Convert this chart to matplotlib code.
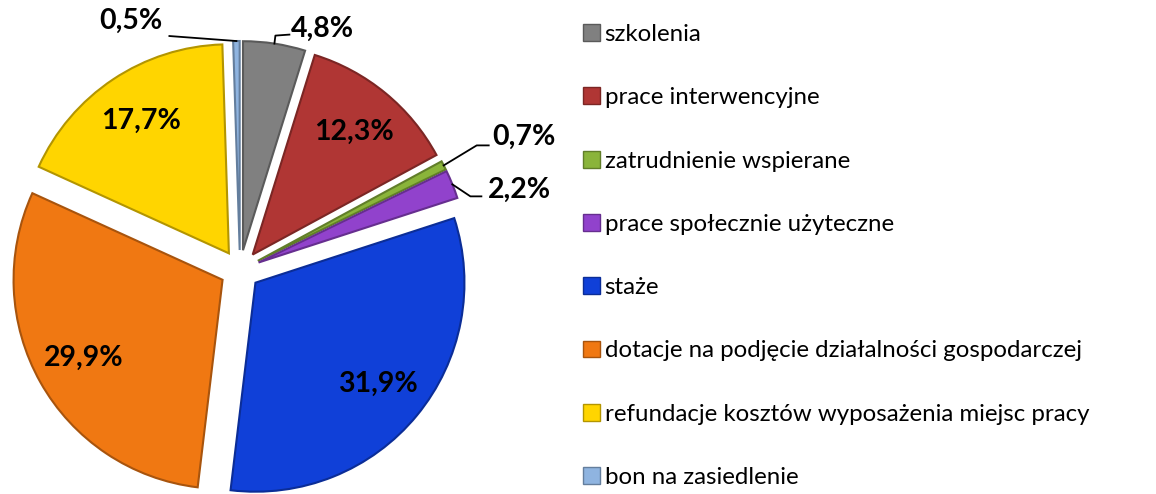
import matplotlib.pyplot as plt
from matplotlib.patches import Patch
from matplotlib.colors import to_rgb
import numpy as np

# data
categories = ['szkolenia', 'prace interwencyjne', 'zatrudnienie wspierane',
              'prace społecznie użyteczne', 'staże',
              'dotacje na podjęcie działalności gospodarczej',
              'refundacje kosztów wyposażenia miejsc pracy',
              'bon na zasiedlenie']
shares = [4.8, 12.3, 0.7, 2.2, 31.9, 29.9, 17.7, 0.5]
colors = ['#808080', '#b03634', '#8ab43a', '#9142cc', '#1040d8',
          '#f07812', '#ffd500', '#8fb4e0']


def darker(c, f=0.7):
    return tuple(v * f for v in to_rgb(c))


plt.rcParams['font.family'] = ['Lato', 'DejaVu Sans']

W, H = 1156, 494
fig = plt.figure(figsize=(W / 100, H / 100), dpi=100)
ax = fig.add_axes([0, 0, 1, 1])

R = 209
center = (240, H - 270)
# explode is in data units here (pixels), not a fraction
explode = [20] * len(shares)

wedges, _ = ax.pie(shares, colors=colors, startangle=90, counterclock=False,
                   radius=R, center=center, explode=explode,
                   wedgeprops=dict(linewidth=1.5))
for w, c in zip(wedges, colors):
    w.set_edgecolor(darker(c))

# pie() resets limits, so fix the pixel frame afterwards
ax.set_xlim(0, W)
ax.set_ylim(0, H)
ax.set_aspect('equal')
ax.axis('off')

fmt = lambda v: f'{v:.1f}'.replace('.', ',') + '%'

# leader lines for the thin slices: elbow, line end, text (pixel offsets)
leaders = {
    0: ((1, 8), (15, 9), (17, 15), 'left'),
    2: ((33, 20), (45, 20), (49, 29), 'left'),
    3: ((18, -12), (29, -12), (35, -5), 'left'),
    7: (None, (-67, 5), (-74, 20), 'right'),
}

for i, (w, v) in enumerate(zip(wedges, shares)):
    mid = np.deg2rad((w.theta1 + w.theta2) / 2)
    cx, cy = w.center
    if i in leaders:
        elbow, end, txt, ha = leaders[i]
        ox, oy = cx + R * np.cos(mid), cy + R * np.sin(mid)
        pts = [(ox, oy)]
        if elbow:
            pts.append((ox + elbow[0], oy + elbow[1]))
        pts.append((ox + end[0], oy + end[1]))
        xs, ys = zip(*pts)
        ax.plot(xs, ys, color='black', lw=1.3)
        ax.text(ox + txt[0], oy + txt[1], fmt(v), ha=ha, va='center',
                fontsize=20.5, fontweight='bold')
    else:
        d = 0.76 * R
        ax.text(cx + d * np.cos(mid), cy + d * np.sin(mid), fmt(v),
                ha='center', va='center', fontsize=20.5, fontweight='bold')

handles = [Patch(facecolor=c, edgecolor=darker(c), linewidth=1) for c in colors]
fig.legend(handles, categories, loc='upper left',
           bbox_to_anchor=(583 / W, 1 - 24 / H), frameon=False,
           fontsize=17.3, handlelength=0.7, handleheight=0.7,
           handletextpad=0.2, labelspacing=1.76,
           borderpad=0, borderaxespad=0)

fig.savefig('out.png', dpi=100)
